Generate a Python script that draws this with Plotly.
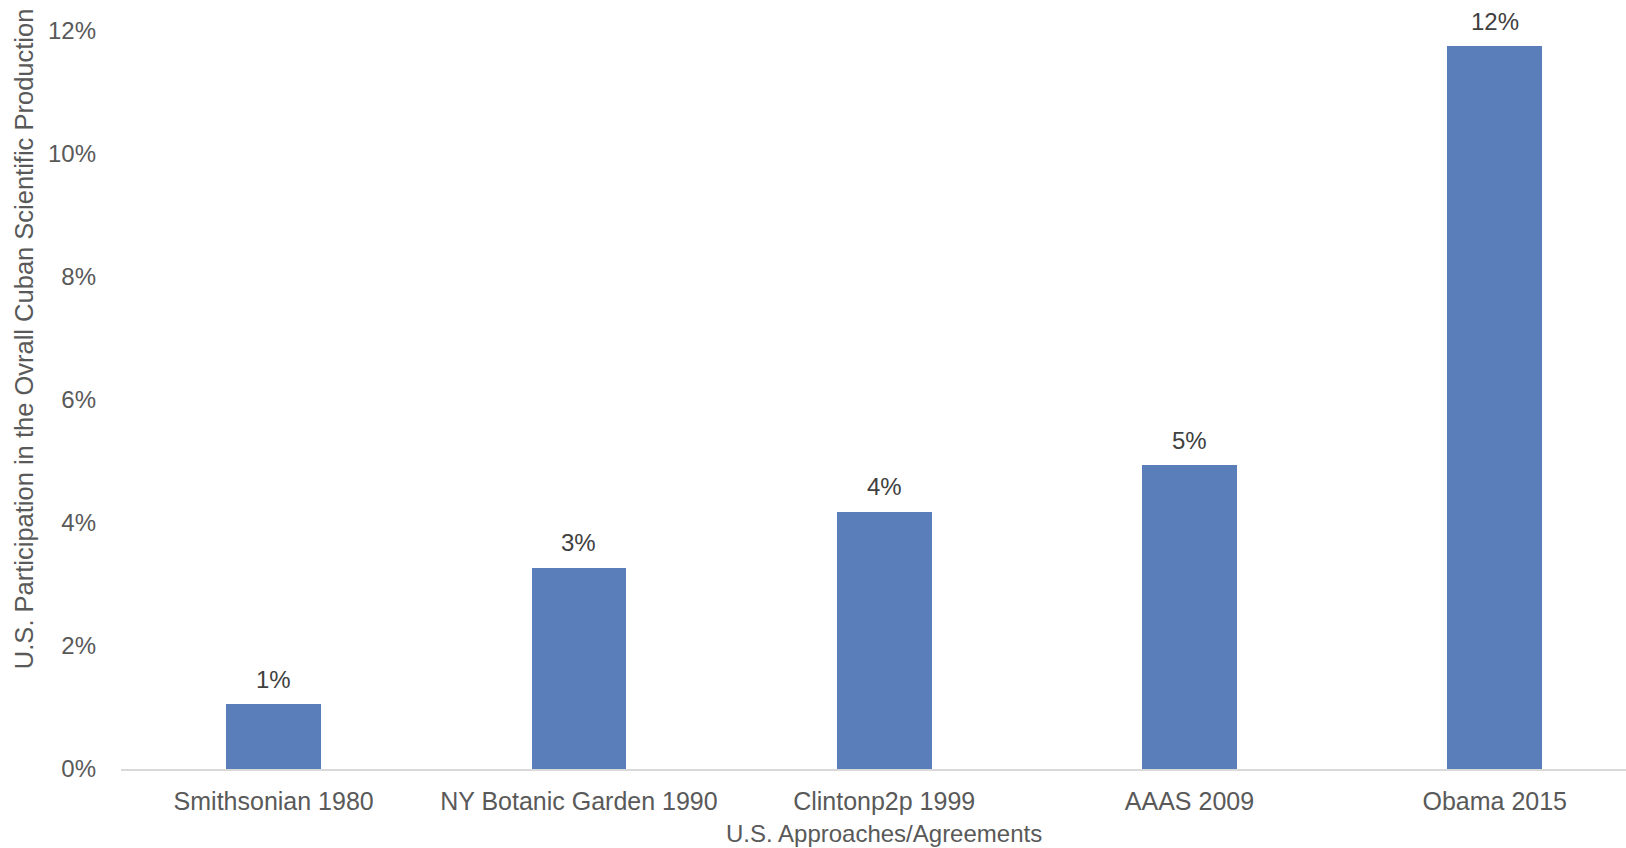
import plotly.graph_objects as go

categories = ["Smithsonian 1980", "NY Botanic Garden 1990", "Clintonp2p 1999", "AAAS 2009", "Obama 2015"]
values = [0.0105, 0.0327, 0.0418, 0.0494, 0.1175]
labels = ["1%", "3%", "4%", "5%", "12%"]
y_ticks = [0, 0.02, 0.04, 0.06, 0.08, 0.10, 0.12]
y_ticktext = ["0%", "2%", "4%", "6%", "8%", "10%", "12%"]

FONT = "Liberation Sans, Arial, sans-serif"

fig = go.Figure()
fig.add_trace(go.Bar(
    x=categories, y=values, width=0.31,
    marker=dict(color="#5A7EBA", line=dict(width=0)),
))

annotations = [dict(
    text=lab, xref="x", x=cat, yref="y", y=val, yshift=25,
    showarrow=False, yanchor="middle", xanchor="center",
    font=dict(size=24, color="#404040"),
) for cat, val, lab in zip(categories, values, labels)]

annotations.append(dict(
    text="U.S. Approaches/Agreements", xref="x", x=2, yref="paper", y=0,
    yshift=-64, showarrow=False, yanchor="middle", xanchor="center",
    font=dict(size=24, color="#595959"),
))
annotations.append(dict(
    text="U.S. Participation in the Ovrall Cuban Scientific Production",
    xref="paper", x=0, xshift=-97, yref="paper", y=0.559,
    textangle=-90, showarrow=False, xanchor="center", yanchor="middle",
    font=dict(size=25.5, color="#595959"),
))

fig.update_layout(
    width=1626, height=848,
    margin=dict(l=121, r=0, t=0, b=79),
    paper_bgcolor="white", plot_bgcolor="white",
    showlegend=False,
    font=dict(family=FONT, size=24, color="#595959"),
    bargap=0,
    xaxis=dict(
        range=[-0.5, 4.43],
        showline=True, linecolor="#d9d9d9", linewidth=2,
        showgrid=False, zeroline=False,
        tickfont=dict(size=25, color="#595959"),
        ticks="", ticklabelstandoff=9,
    ),
    yaxis=dict(
        range=[0, 0.125],
        tickvals=y_ticks, ticktext=y_ticktext,
        showgrid=False, zeroline=False, showline=False,
        tickfont=dict(size=24, color="#595959"),
        ticks="", ticklabelstandoff=24,
    ),
    annotations=annotations,
)

fig.write_html("out.html")
